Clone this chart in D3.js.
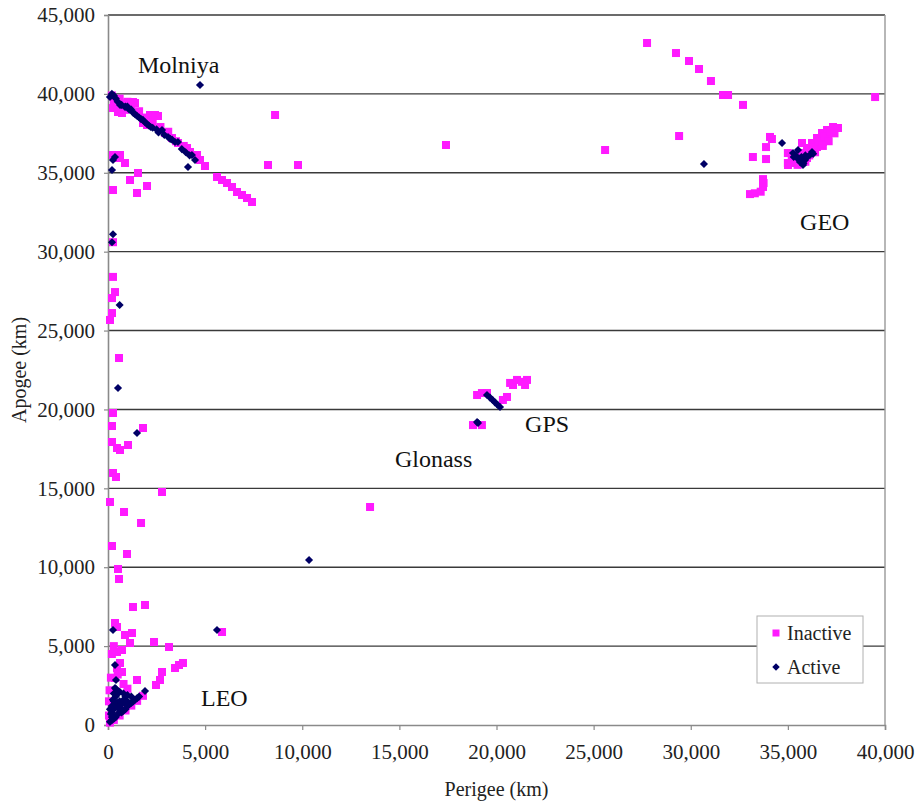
<!DOCTYPE html>
<html><head><meta charset="utf-8">
<script src="https://cdn.jsdelivr.net/npm/d3@7"></script>
<style>
html,body{margin:0;padding:0;background:#fff;}
svg text{font-family:"Liberation Serif","Times New Roman",serif;}
</style></head>
<body>
<svg id="chart" width="916" height="804"></svg>
<script>
// ---- data: [perigee km, apogee km] ----
const inactive = [
  // Molniya band
  [200,39900],[600,39700],[1000,39500],[1200,39300],[257,39105],[515,38852],[721,38789],[500,39100],[875,38990],
  [300,39600],[800,39400],[1600,38900],[1900,38500],[2300,38200],[2700,37900],[3100,37600],[3500,37000],[3900,36700],
  [1287,39486],[1390,39422],[2162,38662],[2420,38662],[2574,38598],[1802,38155],[2008,38028],
  [2934,37521],[3295,37204],[3604,36887],[4067,36570],[4221,36317],[4582,36127],[4736,35810],[4994,35429],
  [5611,34732],[5869,34542],[6126,34352],[6384,34098],[6641,33782],[6898,33591],[7156,33401],[7413,33148],
  // low-perigee near 35,000
  [257,36127],[618,36127],[875,35620],[463,35936],[257,33908],[1133,34542],[1544,34986],[1493,33718],[2008,34162],
  // isolated high
  [8600,38662],[8237,35493],[9781,35493],[17400,36760],[25590,36443],
  [27750,43225],[29240,42590],[29910,42085],[30425,41577],[31040,40817],[31660,39929],[31920,39929],[32690,39300],
  [29400,37330],[39490,39800],[33200,36000],[33875,35870],[33875,36630],[34180,37140],[34080,37270],
  [33050,33650],[33300,33700],[33600,33800],[33720,34100],[33750,34350],[33720,34600],
  // GEO cluster
  [35109,35620],[35367,35810],[35624,36253],[35985,36570],[36242,36887],[36500,37204],[36757,37521],[37015,37711],
  [37323,37901],[37580,37838],[36500,36633],[36809,36951],[37066,37268],[35985,35936],[35727,36887],[35006,35493],
  [35200,35800],[35400,36100],[36000,36300],[36300,36600],[36600,37000],[36900,37300],[37200,37600],[37400,37500],
  [37100,37000],[36800,36700],[36400,36300],[36100,36100],[35900,35700],[35500,35500],[35000,36250],[35000,35620],
  // left column mid altitudes
  [257,30600],[257,28400],[360,27440],[206,27060],[206,26110],[103,25670],[566,23260],
  [257,19775],[206,18950],[206,17936],[463,17556],[618,17430],[1030,17746],[1802,18824],
  [257,15972],[412,15718],[2780,14768],[103,14134],[824,13500],[1700,12803],[206,11345],[978,10838],
  [515,9887],[566,9253],[1287,7479],[1905,7606],[13490,13817],[5870,5894],
  // GPS / Glonass
  [18790,19010],[19250,19010],[19000,20915],[19250,21040],[19510,21040],
  [20330,20600],[20540,20790],[20700,21680],[20850,21550],[21055,21870],[21310,21750],[21570,21870],[21470,21550],
  // LEO
  [360,6465],[463,6211],[875,5704],[1236,5831],[1133,5197],[2368,5260],[3140,4944],[463,4627],[721,4754],
  [3450,3613],[3655,3803],[3860,3930],[2780,3359],[2677,2852],[2471,2535],[1493,2852],[618,3930],[721,3359],
  [360,2979],[463,3600],[500,3200],[300,5000],[200,4500],[150,3000],[80,2200],[50,1500],[50,600],
  [600,600],[900,920],[1200,1230],[1500,1530],[1800,1850],[300,320],[100,150],[1000,2300],[800,2600]
];
const active = [
  // Molniya band
  [100,39800],[200,40000],[300,39900],[400,39700],[500,39500],[620,39300],[875,39170],[700,39300],[900,39200],
  [1100,39000],[1300,38800],[1500,38600],[1700,38400],[1900,38200],[2100,38000],[2300,37850],[2500,37750],
  [1000,39200],[1200,39000],[1400,38700],[1600,38500],[1800,38350],[2000,38100],[2200,37900],[2600,37550],
  [2900,37400],[3200,37150],[3800,36500],[4000,36300],[4200,36100],
  [2780,37711],[3090,37270],[3300,37100],[3450,36950],[3600,36950],[4320,36130],[4480,35810],
  [4118,35366],[4736,40563],[257,35810],[360,36000],[206,35176],
  // mid
  [257,31100],[206,30600],[600,26620],[515,21360],[1493,18507],[10350,10460],[5611,6021],
  // GEO
  [30680,35560],[34700,36890],[35264,36253],[35470,35936],[35624,35683],[35882,35810],[36139,36127],
  [36242,36317],[35521,36443],[35779,35493],[35400,36100],[35700,36000],[36000,36000],
  [35300,36000],[35600,35900],[35800,35600],[36300,36200],[35900,36100],
  // GPS / Glonass
  [19000,19200],[19050,19140],[19510,20915],[19665,20750],[19800,20600],[19920,20450],[20050,20300],[20180,20155],
  // LEO
  [257,6021],[360,3803],[412,2852],[360,2345],[1905,2155],[206,1100],[150,700],
  [100,200],[200,300],[300,500],[400,500],[500,700],[600,800],[700,800],[800,900],[900,1000],[1000,1200],
  [1100,1300],[1200,1400],[1300,1500],[1400,1600],[1500,1700],[1600,1800],[200,800],[300,1000],[400,1200],
  [500,1400],[600,1500],[700,1300],[800,1600],[900,1800],[1000,1900],[1200,1800],[300,1500],[400,1800],
  [500,2000],[300,2000],[400,2300],[600,2100],[800,2000],[300,400],[700,1000],[1000,1500],[500,1100],
  [900,1400],[200,500],[100,1000],[200,1200],[250,1600]
];
const xTicks = [0,5000,10000,15000,20000,25000,30000,35000,40000];
const yTicks = [0,5000,10000,15000,20000,25000,30000,35000,40000,45000];
const labels = [
  {text:"Molniya", x:1544, y:41324},
  {text:"GEO", x:35630, y:31370},
  {text:"GPS", x:21470, y:18570},
  {text:"Glonass", x:14770, y:16350},
  {text:"LEO", x:4790, y:1200}
];
const seriesNames = ["Inactive","Active"];

// ---- layout ----
const svg = d3.select("#chart");
const L=108, R=885, T=15, B=725;
const x = d3.scaleLinear().domain([0,40000]).range([L,R]);
const y = d3.scaleLinear().domain([0,45000]).range([B,T]);
const fmt = d3.format(",");
const FONT = "'Liberation Serif','Times New Roman',serif";

// gridlines
svg.append("g").selectAll("line").data(yTicks.filter(d=>d>0)).join("line")
  .attr("x1",L).attr("x2",R).attr("y1",d=>y(d)).attr("y2",d=>y(d))
  .attr("stroke","#3a3a3a").attr("stroke-width",1.4);
// right frame
svg.append("line").attr("x1",R).attr("x2",R).attr("y1",T).attr("y2",B)
  .attr("stroke","#999").attr("stroke-width",1.4);

// axes
const xAxis = d3.axisBottom(x).tickValues(xTicks).tickFormat(fmt).tickSize(5).tickPadding(18);
const gx = svg.append("g").attr("transform",`translate(0,${B})`).call(xAxis);
const yAxis = d3.axisLeft(y).tickValues(yTicks).tickFormat(fmt).tickSize(4).tickPadding(9);
const gy = svg.append("g").attr("transform",`translate(${L},0)`).call(yAxis);
[gx,gy].forEach(g=>{
  g.attr("font-family",FONT);
  g.select(".domain").attr("stroke","#8a8a8a").attr("stroke-width",1.6);
  g.selectAll(".tick line").attr("stroke","#8a8a8a").attr("stroke-width",1.2);
  g.selectAll(".tick text").attr("font-size",21).attr("fill","#222").style("font-family",FONT);
});
gx.selectAll(".tick text").attr("dy","0.5em");

// axis titles
svg.append("text").attr("x",(L+R)/2).attr("y",796).attr("text-anchor","middle")
  .attr("font-size",20).attr("fill","#222").text("Perigee (km)");
svg.append("text").attr("transform",`translate(26,${(T+B)/2}) rotate(-90)`).attr("text-anchor","middle")
  .attr("font-size",20).attr("fill","#222").text("Apogee (km)");

// points
const sq = 8;
svg.append("g").selectAll("rect").data(inactive).join("rect")
  .attr("x",d=>x(d[0])-sq/2).attr("y",d=>y(d[1])-sq/2).attr("width",sq).attr("height",sq)
  .attr("fill","#ff1aff");
const diamond = d3.symbol().type(d3.symbolDiamond2).size(42);
svg.append("g").selectAll("path").data(active).join("path")
  .attr("transform",d=>`translate(${x(d[0])},${y(d[1])})`)
  .attr("d",diamond).attr("fill","#000066");

// annotations
svg.append("g").selectAll("text").data(labels).join("text")
  .attr("x",d=>x(d.x)).attr("y",d=>y(d.y)).attr("font-size",24).attr("fill","#111")
  .text(d=>d.text);

// legend
const lg = svg.append("g");
lg.append("rect").attr("x",757).attr("y",616).attr("width",106).attr("height",67)
  .attr("fill","#fff").attr("stroke","#b0b0b0").attr("stroke-width",1);
lg.append("rect").attr("x",772.5).attr("y",629.5).attr("width",7).attr("height",7).attr("fill","#ff1aff");
lg.append("path").attr("transform","translate(776,667)").attr("d",d3.symbol().type(d3.symbolDiamond2).size(36)).attr("fill","#000066");
lg.append("text").attr("x",787).attr("y",640).attr("font-size",20).attr("fill","#222").text(seriesNames[0]);
lg.append("text").attr("x",787).attr("y",674).attr("font-size",20).attr("fill","#222").text(seriesNames[1]);
</script>
</body></html>
